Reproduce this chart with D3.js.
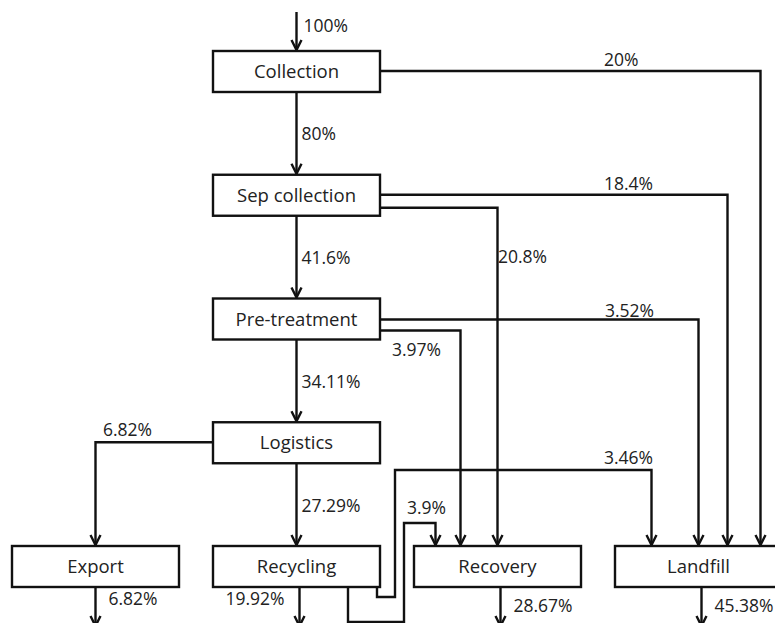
<!DOCTYPE html>
<html>
<head>
<meta charset="utf-8">
<script src="https://cdn.jsdelivr.net/npm/d3@7"></script>
<style>
  body { margin: 0; background: #fff; }
  svg text { font-family: "Open Sans", sans-serif; fill: #222; }
</style>
</head>
<body>
<div id="chart"></div>
<script>
// flow steps (node name, column, row in the diagram grid)
const nodeNames = ["Collection", "Sep collection", "Pre-treatment", "Logistics", "Export", "Recycling", "Recovery", "Landfill"];
const nodeCols = [1, 1, 1, 1, 0, 1, 2, 3];
const nodeRows = [0, 1, 2, 3, 4, 4, 4, 4];

// material flows between steps ("in" / "out" = enters or leaves the system)
const flowFrom  = ["in", "Collection", "Collection", "Sep collection", "Sep collection", "Sep collection", "Pre-treatment", "Pre-treatment", "Pre-treatment", "Logistics", "Logistics", "Recycling", "Recycling", "Export", "Recycling", "Recovery", "Landfill"];
const flowTo    = ["Collection", "Landfill", "Sep collection", "Landfill", "Recovery", "Pre-treatment", "Landfill", "Recovery", "Logistics", "Export", "Recycling", "Landfill", "Recovery", "out", "out", "out", "out"];
const flowValue = ["100%", "20%", "80%", "18.4%", "20.8%", "41.6%", "3.52%", "3.97%", "34.11%", "6.82%", "27.29%", "3.46%", "3.9%", "6.82%", "19.92%", "28.67%", "45.38%"];

const W = 775, H = 623;
const boxW = 167, boxH = 41;

let x = d3.scaleLinear().domain([0, 3]).range([95.5, 698.5]);   // column centre
let y = d3.scaleLinear().domain([0, 4]).range([51, 546]);       // row top

let svg = d3.select("#chart").append("svg")
    .attr("width", W)
    .attr("height", H);

svg.append("defs").append("marker")
    .attr("id", "arr")
    .attr("markerUnits", "userSpaceOnUse")
    .attr("viewBox", "-13 -7 15 14")
    .attr("refX", 0).attr("refY", 0)
    .attr("markerWidth", 15).attr("markerHeight", 14)
    .attr("orient", "auto")
    .append("path")
    .attr("d", "M-10,-5 L0,0 L-10,5")
    .attr("fill", "none")
    .attr("stroke", "#111")
    .attr("stroke-width", 2.4);

let node = {};
nodeNames.forEach(function (n, i) {
    let cx = x(nodeCols[i]), top = y(nodeRows[i]);
    node[n] = { cx: cx, top: top, left: cx - boxW / 2, right: cx + boxW / 2, bottom: top + boxH };
});

// route of every flow, as a polyline built from the node boxes
function route(i) {
    let s = node[flowFrom[i]], t = node[flowTo[i]];
    let p, lab;
    if (flowFrom[i] === "in") {
        p = [[t.cx, 12], [t.cx, t.top - 1]];
        lab = [t.cx + 7, 32, "start"];
    } else if (flowTo[i] === "out") {
        let dx = flowFrom[i] === "Export" ? s.cx : s.cx + 3;
        p = [[dx, s.bottom], [dx, H + 3]];
        let by = (flowFrom[i] === "Recovery" || flowFrom[i] === "Landfill") ? 612 : 605;
        lab = flowFrom[i] === "Recycling" ? [dx - 15, by, "end"] : [dx + 13, by, "start"];
    } else if (s.cx === t.cx && flowFrom[i] !== "Recycling") {
        p = [[s.cx, s.bottom], [s.cx, t.top - 1]];
        lab = [s.cx + 5, (s.bottom + t.top) / 2 + 7, "start"];
    } else {
        // side exits: [exit y offset, drop x offset from target centre, label x, label baseline]
        let r = {
            1:  [20, 62, 604, 66],
            3:  [20, 29, 604, 190],
            4:  [33, 0, 498, 263],
            6:  [21, 0, 605, 317],
            7:  [32, -37, 392, 356],
            9:  [20, 0, 103, 436]
        }[i];
        if (r) {
            let sx = t.cx < s.cx ? s.left : s.right;
            p = [[sx, s.top + r[0]], [t.cx + r[1], s.top + r[0]], [t.cx + r[1], t.top - 1]];
            lab = [r[2], r[3], "start"];
        } else if (flowTo[i] === "Landfill") {
            // Recycling -> Landfill loops up over the Recovery box
            p = [[s.right - 3, s.bottom], [s.right - 3, s.bottom + 10], [s.right + 15, s.bottom + 10],
                 [s.right + 15, 470], [t.cx - 47, 470], [t.cx - 47, t.top - 1]];
            lab = [604, 464, "start"];
        } else {
            // Recycling -> Recovery runs under the boxes and back up
            p = [[s.cx + 51.5, s.bottom], [s.cx + 51.5, H - 1], [s.right + 24, H - 1],
                 [s.right + 24, 523], [t.cx - 62, 523], [t.cx - 62, t.top - 1]];
            lab = [407, 514, "start"];
        }
    }
    return { pts: p, lab: lab };
}

let line = d3.line();
let flows = flowValue.map(function (v, i) { return Object.assign({ value: v }, route(i)); });

svg.selectAll(".flow")
    .data(flows)
    .enter()
    .append("path")
    .attr("class", "flow")
    .attr("d", function (d) { return line(d.pts); })
    .attr("fill", "none")
    .attr("stroke", "#111")
    .attr("stroke-width", 2.4)
    .attr("marker-end", "url(#arr)");

svg.selectAll(".flowLabel")
    .data(flows)
    .enter()
    .append("text")
    .attr("class", "flowLabel")
    .attr("x", function (d) { return d.lab[0]; })
    .attr("y", function (d) { return d.lab[1]; })
    .attr("text-anchor", function (d) { return d.lab[2]; })
    .style("font-size", "17.5px")
    .text(function (d) { return d.value; });

// boxes
let boxes = svg.selectAll(".box")
    .data(nodeNames)
    .enter()
    .append("g")
    .attr("class", "box");

boxes.append("rect")
    .attr("x", function (d) { return node[d].left; })
    .attr("y", function (d) { return node[d].top; })
    .attr("width", boxW)
    .attr("height", boxH)
    .attr("fill", "#fff")
    .attr("stroke", "#111")
    .attr("stroke-width", 2.4);

boxes.append("text")
    .attr("x", function (d) { return node[d].cx; })
    .attr("y", function (d) { return node[d].top + boxH / 2 + 6.5; })
    .attr("text-anchor", "middle")
    .style("font-size", "18.5px")
    .text(function (d) { return d; });
</script>
</body>
</html>
